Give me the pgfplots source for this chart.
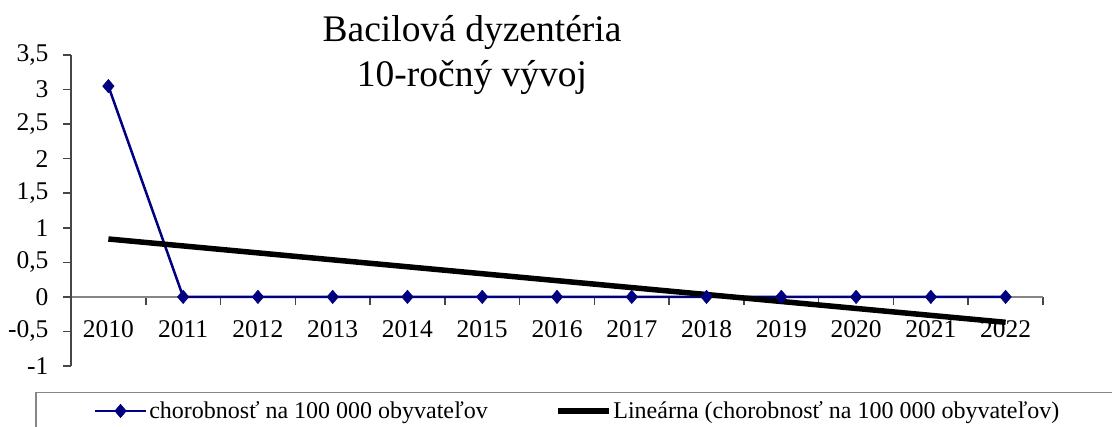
\documentclass[border=0pt]{standalone}
\usepackage{pgfplots}
\pgfplotsset{compat=1.18}
\usepackage{fontspec}
\setmainfont{Liberation Serif}
\definecolor{navy}{RGB}{0,0,128}
\definecolor{axgray}{RGB}{134,134,134}
\definecolor{tkgray}{RGB}{70,70,70}
\begin{document}
\begin{tikzpicture}[x=1pt,y=1pt]
\path[use as bounding box, clip] (0,0) rectangle (1112,427);
\begin{axis}[
  at={(71pt,61pt)}, anchor=south west,
  x=74.77pt, y=69.1pt,
  xmin=-0.5, xmax=12.5, ymin=-1, ymax=3.5,
  axis x line*=middle, axis y line*=left,
  x axis line style={axgray, line width=1.5pt},
  y axis line style={tkgray, line width=1.5pt},
  every tick/.style={tkgray, line width=1.5pt},
  tick align=outside,
  ytick={-1,-0.5,0,0.5,1,1.5,2,2.5,3,3.5},
  major tick length=8pt,
  minor tick length=8pt,
  xtick={0,1,2,3,4,5,6,7,8,9,10,11,12},
  xticklabels={2010,2011,2012,2013,2014,2015,2016,2017,2018,2019,2020,2021,2022},
  major x tick style={draw=none},
  minor xtick={-0.5,0.5,1.5,2.5,3.5,4.5,5.5,6.5,7.5,8.5,9.5,10.5,11.5,12.5},
  tick label style={font=\fontsize{25.5}{30}\selectfont, black},
  xticklabel style={yshift=-12pt},
  yticklabel style={xshift=-11pt},
  /pgf/number format/.cd, use comma, fixed, precision=1, assume math mode=true,
  /pgfplots/.cd,
  clip=false,
  title={Bacilová dyzentéria\\10-ročný vývoj},
  title style={at={(0.4126,1.1093)}, anchor=north, align=center, inner sep=0pt,
    font=\fontsize{37.5}{45}\selectfont},
  legend columns=2,
  legend cell align=left,
  legend image code/.code={\draw[mark repeat=2,mark phase=2,#1] plot coordinates {(0pt,0pt)(25.5pt,0pt)(51pt,0pt)};},
  legend style={at={(-0.037,-0.0836)}, anchor=north west, draw=axgray, line width=1.5pt,
    inner xsep=58pt, inner ysep=7pt, font=\fontsize{24}{28}\selectfont,
    /tikz/every even column/.append style={column sep=65pt}},
]
\addplot[navy, line width=2.5pt, mark=square*, mark size=4.4pt,
  mark options={xscale=0.92, yscale=1.08, rotate=45, solid, line width=0.5pt}]
  coordinates {(0,3.05)(1,0)(2,0)(3,0)(4,0)(5,0)(6,0)(7,0)(8,0)(9,0)(10,0)(11,0)(12,0)};
\addlegendentry{chorobnosť na 100 000 obyvateľov}
\addplot[black, line width=5.5pt] coordinates {(0,0.838)(12,-0.368)};
\addlegendentry{Lineárna (chorobnosť na 100 000 obyvateľov)}
\end{axis}
\end{tikzpicture}
\end{document}
